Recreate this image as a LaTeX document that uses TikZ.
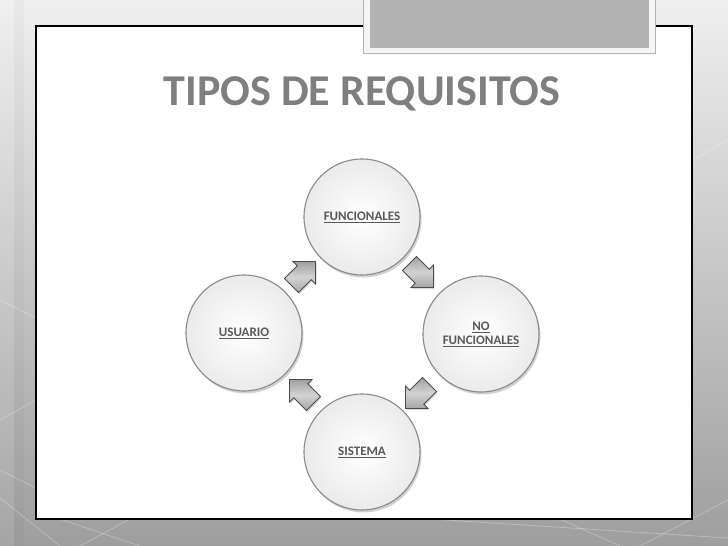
\documentclass[tikz,border=0pt]{standalone}
\usepackage{fontspec}
\setmainfont{Carlito}
\usetikzlibrary{shapes.arrows,shadows}
\definecolor{bgtop}{HTML}{EFEFEF}
\definecolor{bgbot}{HTML}{9E9E9E}
\definecolor{titlegray}{HTML}{7F7F7F}
\definecolor{labelgray}{HTML}{595959}
\definecolor{tabgray}{HTML}{B3B3B3}
\definecolor{rimgray}{HTML}{8A8A8A}
\tikzset{
  bubble/.style={circle, minimum size=116pt, inner sep=0pt,
    draw=rimgray, line width=1.1pt,
    inner color=white, outer color=gray!16,
    drop shadow={shadow xshift=1.5pt, shadow yshift=-2.5pt, opacity=0.35, fill=gray},
    font=\fontsize{13}{15}\selectfont\bfseries, text=labelgray, align=center},
  blockarrow/.style={single arrow, draw=gray!60!black, line width=0.8pt,
    minimum height=34pt, inner sep=9.5pt, single arrow head extend=6pt,
    top color=gray!75, bottom color=gray!70, middle color=gray!35,
    drop shadow={shadow xshift=1pt, shadow yshift=-1.5pt, opacity=0.3, fill=gray}},
  bgline/.style={white, opacity=0.28, line width=0.8pt}
}
\begin{document}
\begin{tikzpicture}[x=1pt,y=-1pt]
\useasboundingbox (0,0) rectangle (728,546);
% background
\shade[top color=bgtop, bottom color=bgbot] (0,0) rectangle (728,546);
\fill[white, opacity=0.08] (0,0) rectangle (14,546);
\fill[black, opacity=0.025] (14,0) rectangle (24,546);
\draw[bgline] (0,300) -- (36,318);
\draw[bgline] (0,420) -- (36,400);
\draw[bgline] (0,470) -- (36,488);
\draw[bgline] (0,498) -- (60,546);
\draw[bgline] (60,519) -- (140,546);
\draw[bgline] (80,546) -- (130,519);
\draw[bgline] (430,519) -- (728,538);
\draw[bgline] (560,519) -- (620,546);
\draw[bgline] (640,546) -- (728,500);
\draw[bgline] (692,160) -- (728,140);
% panel
\fill[white] (36,26) rectangle (692,519);
\draw[black, line width=1.2pt] (36,26) rectangle (692,519);
% tab
\fill[gray!8] (363,-2) rectangle (655,53);
\draw[gray!60, line width=0.8pt] (363,-2) rectangle (655,53);
\fill[tabgray] (370,-2) rectangle (649,48);
% title
\node[anchor=base, text=titlegray, font=\fontsize{44}{48}\selectfont\bfseries, inner sep=0pt]
  (title) at (362,105) {TIPOS DE REQUISITOS};
% circles
\node[bubble] (f)  at (362,217) {\underline{FUNCIONALES}};
\node[bubble] (nf) at (481,334) {\underline{NO}\\[-1pt]\underline{FUNCIONALES}};
\node[bubble] (s)  at (362,452) {\underline{SISTEMA}};
\node[bubble] (u)  at (244,333) {\underline{USUARIO}};
% arrows
\node[blockarrow, rotate=45]   (a1) at (300,277) {};
\node[blockarrow, rotate=-45]  (a2) at (418,272) {};
\node[blockarrow, rotate=-135] (a3) at (421,393) {};
\node[blockarrow, rotate=135]  (a4) at (305,395) {};
\end{tikzpicture}
\end{document}
